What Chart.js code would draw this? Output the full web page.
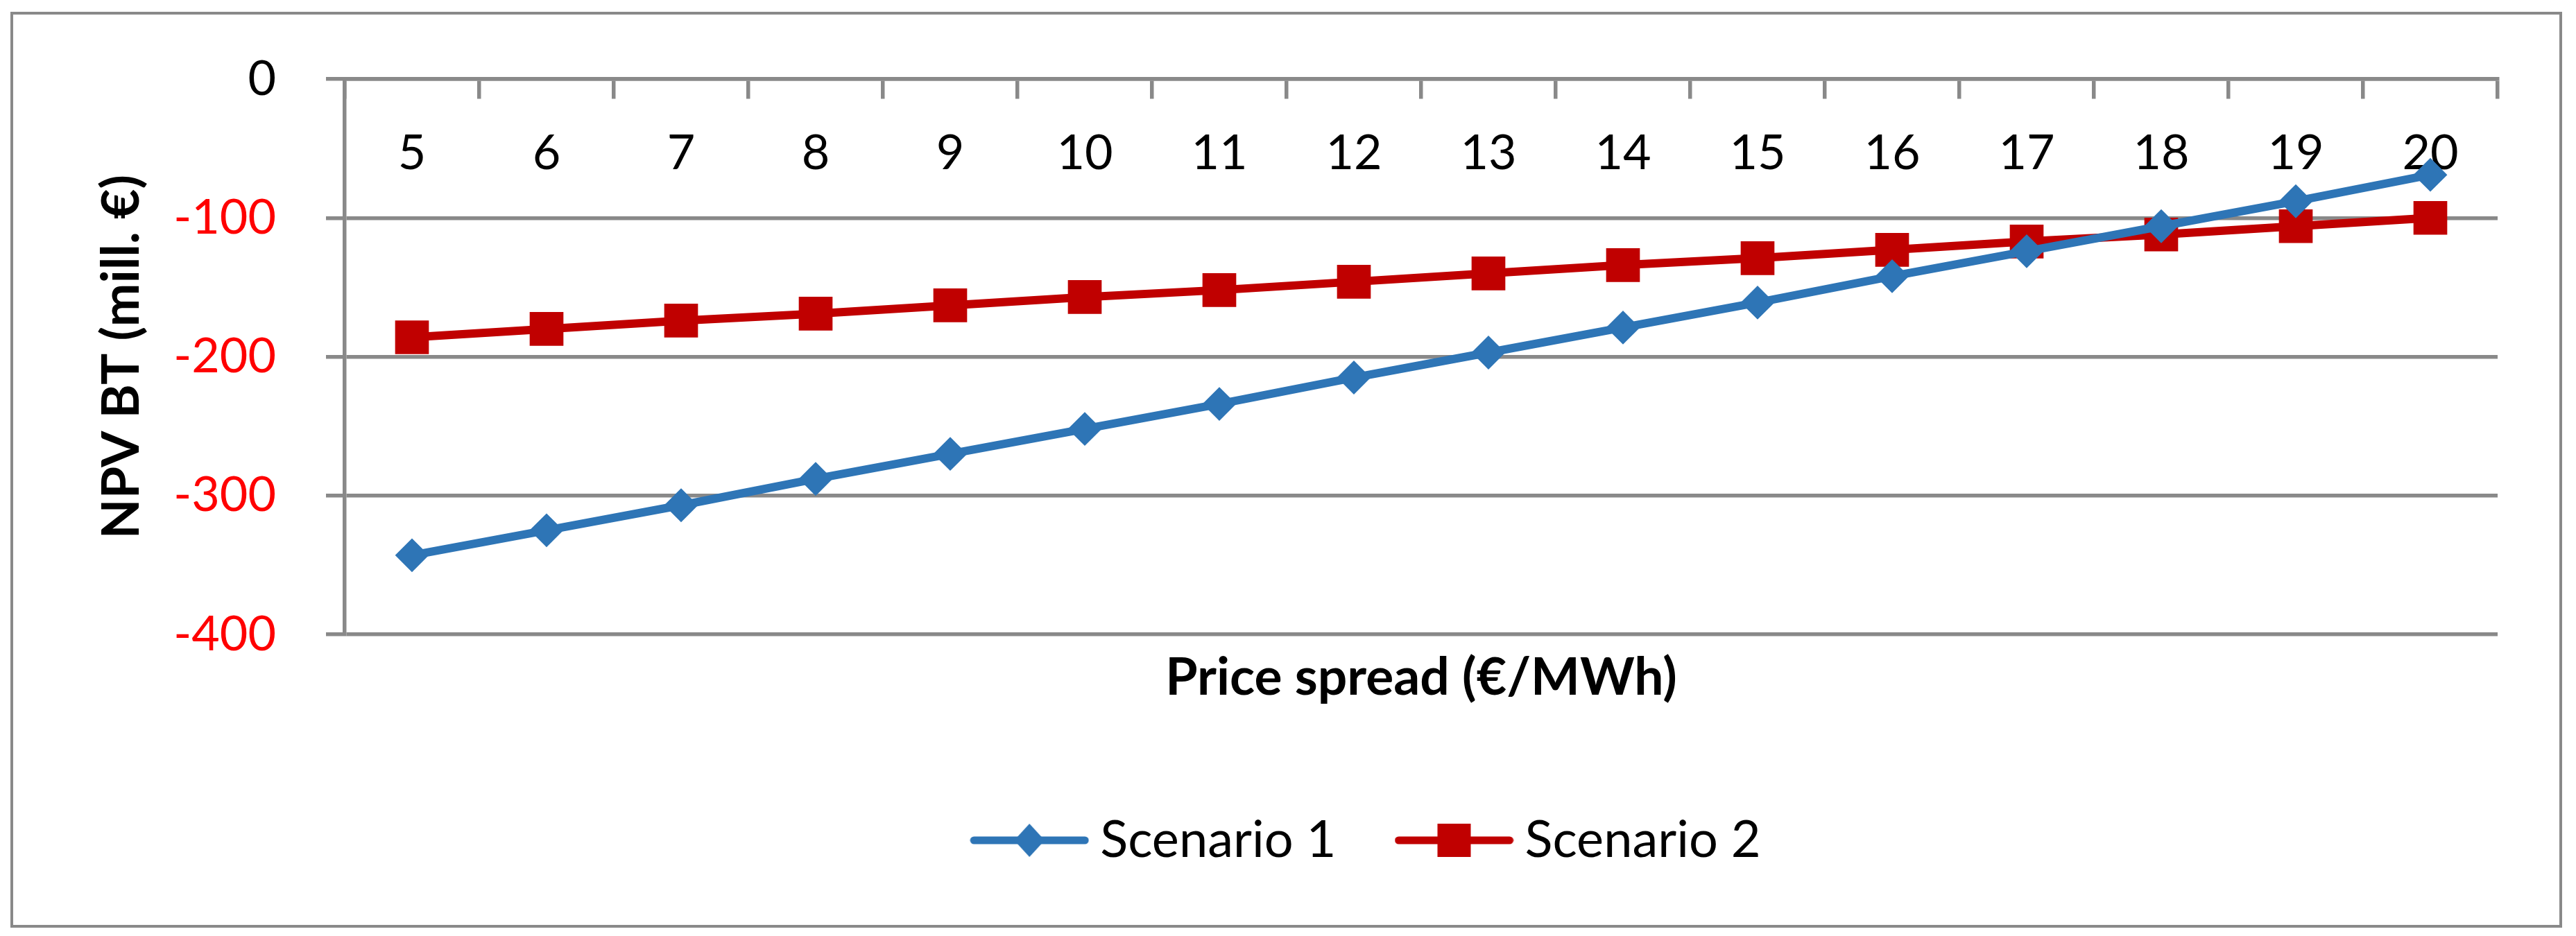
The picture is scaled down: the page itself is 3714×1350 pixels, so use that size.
<!DOCTYPE html>
<html>
<head>
<meta charset="utf-8">
<title>NPV BT vs price spread</title>
<script src="https://cdn.jsdelivr.net/npm/chart.js@4.4.1/dist/chart.umd.min.js"></script>
<style>
    html, body { margin: 0; padding: 0; background: #ffffff; }
    #wrap { position: relative; width: 3714px; height: 1350px; }
    #frame {
        position: absolute; left: 15px; top: 17px; width: 3679px; height: 1321px;
        box-sizing: border-box; border: 4px solid #898989; pointer-events: none;
    }
</style>
</head>
<body>
<div id="wrap">
    <canvas id="npvChart" width="3714" height="1350"></canvas>
    <div id="frame"></div>
</div>
<script>
// Price spread categories (€/MWh)
const priceSpread = ['5', '6', '7', '8', '9', '10', '11', '12', '13', '14', '15', '16', '17', '18', '19', '20'];

// NPV BT (mill. €)
const scenario1 = [-343, -325, -307, -288, -270, -252, -234, -215, -197, -179, -161, -142, -124, -106, -88, -69];
const scenario2 = [-186, -180, -174, -169, -163, -157, -152, -146, -140, -134, -129, -123, -117, -112, -106, -100];

// y axis tick values
const yTickValues = [0, -100, -200, -300, -400];

const seriesNames = ['Scenario 1', 'Scenario 2'];

const BLUE = '#2E75B6';
const RED = '#C00000';
const GRID = '#898989';

Chart.defaults.font.family = 'Lato, "Liberation Sans", sans-serif';
Chart.defaults.color = '#000000';

/**
 * Build a small canvas with a line and a marker, like the Excel legend key
 */
function makeLegendIcon(color, shape) {
    const c = document.createElement('canvas');
    c.width = 172;
    c.height = 52;
    const g = c.getContext('2d');
    g.strokeStyle = color;
    g.fillStyle = color;
    g.lineWidth = 11;
    g.lineCap = 'round';
    g.beginPath();
    g.moveTo(6, 26);
    g.lineTo(166, 26);
    g.stroke();
    g.beginPath();
    if (shape === 'diamond') {
        g.moveTo(86, 2);
        g.lineTo(108, 26);
        g.lineTo(86, 50);
        g.lineTo(64, 26);
    } else {
        g.rect(62, 2, 48, 48);
    }
    g.closePath();
    g.fill();
    return c;
}

const legendIcons = [makeLegendIcon(BLUE, 'diamond'), makeLegendIcon(RED, 'square')];

// Excel centres the legend a bit left of the plot centre; nudge the legend box
const legendNudge = {
    id: 'legendNudge',
    afterLayout(chart) {
        if (!chart.legend) return;
        chart.legend.left -= 70;
        chart.legend.right -= 70;
    }
};

const ctx = document.getElementById('npvChart');

const npvChart = new Chart(ctx, {
    type: 'line',
    data: {
        labels: priceSpread,
        datasets: [{
            label: seriesNames[0],
            data: scenario1,
            borderColor: BLUE,
            backgroundColor: BLUE,
            borderWidth: 12,
            tension: 0,
            pointStyle: 'rectRot',
            pointRadius: 23,
            pointBorderWidth: 2,
            pointHoverRadius: 23
        }, {
            label: seriesNames[1],
            data: scenario2,
            borderColor: RED,
            backgroundColor: RED,
            borderWidth: 12,
            tension: 0,
            pointStyle: 'rect',
            pointRadius: 33,
            pointBorderWidth: 2,
            pointHoverRadius: 33
        }]
    },
    options: {
        responsive: false,
        animation: false,
        layout: {
            padding: { left: 127, right: 113, top: 110, bottom: 91 }
        },
        plugins: {
            tooltip: { enabled: false },
            legend: {
                display: true,
                position: 'bottom',
                fullSize: false,
                labels: {
                    font: { size: 74 },
                    color: '#000000',
                    usePointStyle: true,
                    pointStyleWidth: 130,
                    padding: 105,
                    generateLabels: function(chart) {
                        const items = Chart.defaults.plugins.legend.labels.generateLabels(chart);
                        items.forEach(item => { item.pointStyle = legendIcons[item.datasetIndex]; });
                        return items;
                    }
                }
            }
        },
        scales: {
            x: {
                type: 'category',
                position: { y: 0 },
                offset: true,
                grid: {
                    display: true,
                    offset: true,
                    drawOnChartArea: false,
                    drawTicks: true,
                    tickLength: 26,
                    color: GRID,
                    lineWidth: 5.5
                },
                border: { display: true, color: GRID, width: 5.5 },
                ticks: {
                    font: { size: 70 },
                    color: '#000000',
                    padding: 39,
                    maxRotation: 0,
                    autoSkip: false
                }
            },
            x2: {
                type: 'category',
                axis: 'x',
                position: 'bottom',
                display: true,
                grid: { display: false, drawTicks: false },
                border: { display: false },
                ticks: { display: false },
                title: {
                    display: true,
                    text: 'Price spread (€/MWh)',
                    font: { size: 75, weight: 'bold' },
                    color: '#000000',
                    padding: { top: 4, bottom: 47 }
                },
                afterFit: function(scale) { scale.height = 155; }
            },
            y: {
                position: 'left',
                min: -400,
                max: 0,
                afterBuildTicks: function(scale) {
                    scale.ticks = yTickValues.map(v => ({ value: v }));
                },
                afterFit: function(scale) { scale.width = 370; },
                grid: {
                    color: GRID,
                    lineWidth: 5.5,
                    tickLength: 27,
                    drawTicks: true
                },
                border: { display: true, color: GRID, width: 5.5 },
                ticks: {
                    font: { size: 70 },
                    padding: 72,
                    color: function(c) {
                        return c.tick && c.tick.value === 0 ? '#000000' : '#FF0000';
                    }
                },
                title: {
                    display: true,
                    text: 'NPV BT (mill. €)',
                    font: { size: 75, weight: 'bold' },
                    color: '#000000',
                    padding: { top: 4, bottom: 4 }
                }
            }
        }
    },
    plugins: [legendNudge]
});
</script>
</body>
</html>
